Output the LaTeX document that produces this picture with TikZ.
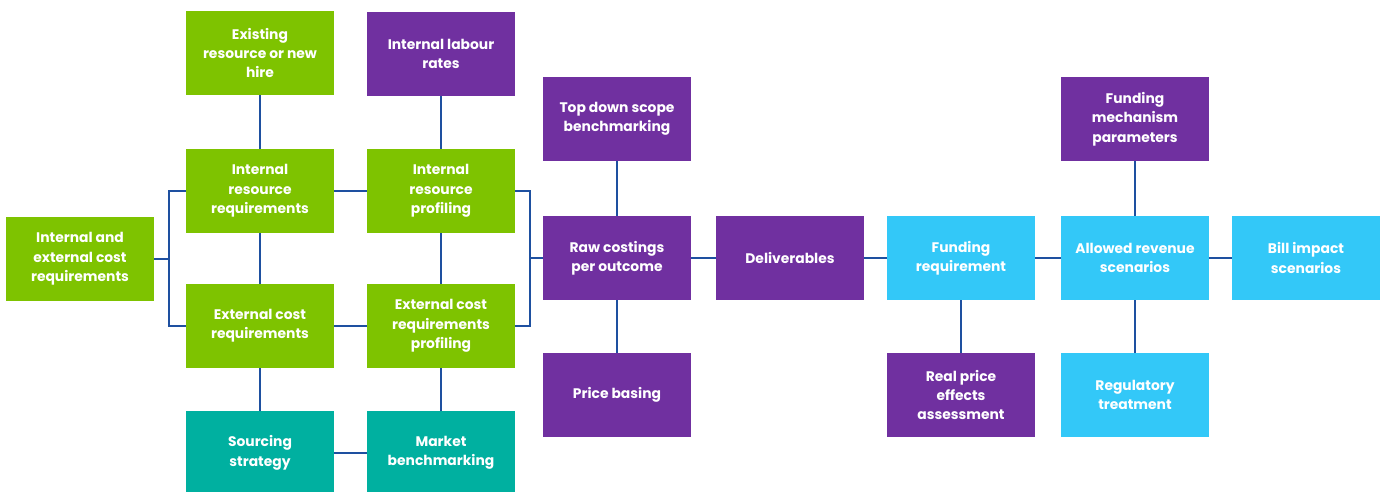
\documentclass[tikz,border=0pt]{standalone}
\usepackage{fontspec}
\setmainfont{Poppins}
\definecolor{cgreen}{RGB}{126,195,0}
\definecolor{cpurple}{RGB}{112,48,160}
\definecolor{cteal}{RGB}{0,176,160}
\definecolor{cblue}{RGB}{51,200,248}
\definecolor{clink}{RGB}{30,80,160}
\begin{document}
\begin{tikzpicture}[x=0.02cm,y=-0.02cm,
		box/.style={minimum width=2.96cm,minimum height=1.68cm,inner sep=2pt,align=center,text=white,font=\bfseries\fontsize{7.9}{11}\selectfont},
		greenbox/.style={box,fill=cgreen},
		purplebox/.style={box,fill=cpurple},
		tealbox/.style={box,fill=cteal},
		bluebox/.style={box,fill=cblue},
		link/.style={draw=clink,line width=1pt}]
		\useasboundingbox (0,0) rectangle (1386,492);
		
		\node [greenbox] (iec) at (80,259) {Internal and\\external cost\\requirements};
		
		\node [greenbox] (exist) at (260,53) {Existing\\resource or new\\hire};
		\node [greenbox] (irr) at (260,191) {Internal\\resource\\requirements};
		\node [greenbox] (ecr) at (260,326) {External cost\\requirements};
		\node [tealbox] (src) at (260,453) {Sourcing\\strategy};
		
		\node [purplebox] (ilr) at (441,54) {Internal labour\\rates};
		\node [greenbox] (irp) at (441,191) {Internal\\resource\\profiling};
		\node [greenbox] (ecp) at (441,326) {External cost\\requirements\\profiling};
		\node [tealbox] (mkt) at (441,453) {Market\\benchmarking};
		
		\node [purplebox] (tds) at (617,119) {Top down scope\\benchmarking};
		\node [purplebox] (raw) at (617,258) {Raw costings\\per outcome};
		\node [purplebox] (price) at (617,395) {Price basing};
		
		\node [purplebox] (deliv) at (790,258) {Deliverables};
		
		\node [bluebox] (freq) at (961,258) {Funding\\requirement};
		\node [purplebox] (rpe) at (961,395) {Real price\\effects\\assessment};
		
		\node [purplebox] (fmp) at (1135,119) {Funding\\mechanism\\parameters};
		\node [bluebox] (ars) at (1135,258) {Allowed revenue\\scenarios};
		\node [bluebox] (reg) at (1135,395) {Regulatory\\treatment};
		
		\node [bluebox] (bill) at (1306,258) {Bill impact\\scenarios};
		
		\draw [link] (iec.east) -- ++(15,0) coordinate (lj) |- (irr.west);
		\draw [link] (lj) |- (ecr.west);
		\draw [link] (irr) -- (irp);
		\draw [link] (ecr) -- (ecp);
		\draw [link] (irp.east) -- ++(15,0) coordinate (rj) |- (ecp.east);
		\draw [link] (raw.west) -- (rj |- raw.west);
		
		\draw [link] (exist) -- (irr);
		\draw [link] (irr) -- (ecr);
		\draw [link] (ecr) -- (src);
		\draw [link] (ilr) -- (irp);
		\draw [link] (irp) -- (ecp);
		\draw [link] (ecp) -- (mkt);
		\draw [link] (src) -- (mkt);
		
		\draw [link] (tds) -- (raw);
		\draw [link] (raw) -- (price);
		\draw [link] (raw) -- (deliv);
		\draw [link] (deliv) -- (freq);
		\draw [link] (freq) -- (rpe);
		\draw [link] (freq) -- (ars);
		\draw [link] (fmp) -- (ars);
		\draw [link] (ars) -- (reg);
		\draw [link] (ars) -- (bill);
	\end{tikzpicture}
\end{document}
